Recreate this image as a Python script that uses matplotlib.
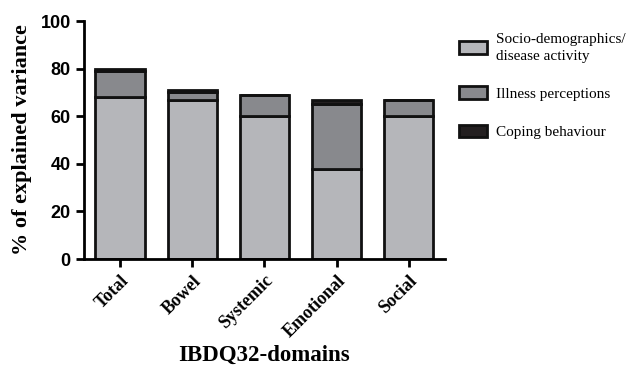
import numpy as np
import matplotlib.pyplot as plt
from matplotlib.patches import Patch

# values (% of explained variance, stacked)
domains = ["Total", "Bowel", "Systemic", "Emotional", "Social"]
socio = [68, 67, 60, 38, 60]
illness = [11, 3, 9, 27, 7]
coping = [1, 1, 0, 2, 0]

c_socio = "#b5b6ba"
c_ill = "#88898d"
c_cope = "#231f20"

fig = plt.figure(figsize=(6.31, 3.69), dpi=100)
ax = fig.add_axes([0.133, 0.298, 0.572, 0.645])

x = np.arange(len(domains))
w = 0.68
lw = 2.0
b1 = ax.bar(x, socio, w, color=c_socio, edgecolor="#111111", linewidth=lw)
b2 = ax.bar(x, illness, w, bottom=socio, color=c_ill, edgecolor="#111111", linewidth=lw)
bot3 = np.array(socio) + np.array(illness)
b3 = ax.bar(x, coping, w, bottom=bot3, color=c_cope, edgecolor="#111111", linewidth=lw)

ax.set_xlim(-0.5, 4.5)
ax.set_ylim(0, 100)
ax.set_yticks([0, 20, 40, 60, 80, 100])
ax.spines["top"].set_visible(False)
ax.spines["right"].set_visible(False)
ax.spines["left"].set_linewidth(2)
ax.spines["bottom"].set_linewidth(2)
ax.tick_params(width=2, length=6)

for t in ax.get_yticklabels():
    t.set_fontfamily("Liberation Sans")
    t.set_fontweight("bold")
    t.set_fontsize(13)

ax.set_xticks(x)
ax.set_xticklabels(domains, rotation=45, ha="right", rotation_mode="anchor",
                   fontfamily="Liberation Serif", fontweight="bold", fontsize=13)

ax.set_ylabel("% of explained variance", fontfamily="Liberation Serif",
              fontweight="bold", fontsize=16, labelpad=6)
ax.set_xlabel("IBDQ32-domains", fontfamily="Liberation Serif",
              fontweight="bold", fontsize=16.5, labelpad=3)

handles = [Patch(facecolor=c_socio, edgecolor="#111111", linewidth=lw),
           Patch(facecolor=c_ill, edgecolor="#111111", linewidth=lw),
           Patch(facecolor=c_cope, edgecolor="#111111", linewidth=lw)]
labels = ["Socio-demographics/\ndisease activity", "Illness perceptions", "Coping behaviour"]
leg = fig.legend(handles, labels, loc="upper left", bbox_to_anchor=(0.706, 0.947),
                 frameon=False, prop={"family": "Liberation Serif", "size": 11},
                 labelspacing=1.55, handlelength=1.8, handleheight=0.9, handletextpad=0.6)
for t in leg.get_texts():
    t.set_linespacing(1.35)

fig.savefig("out.png", dpi=100)
